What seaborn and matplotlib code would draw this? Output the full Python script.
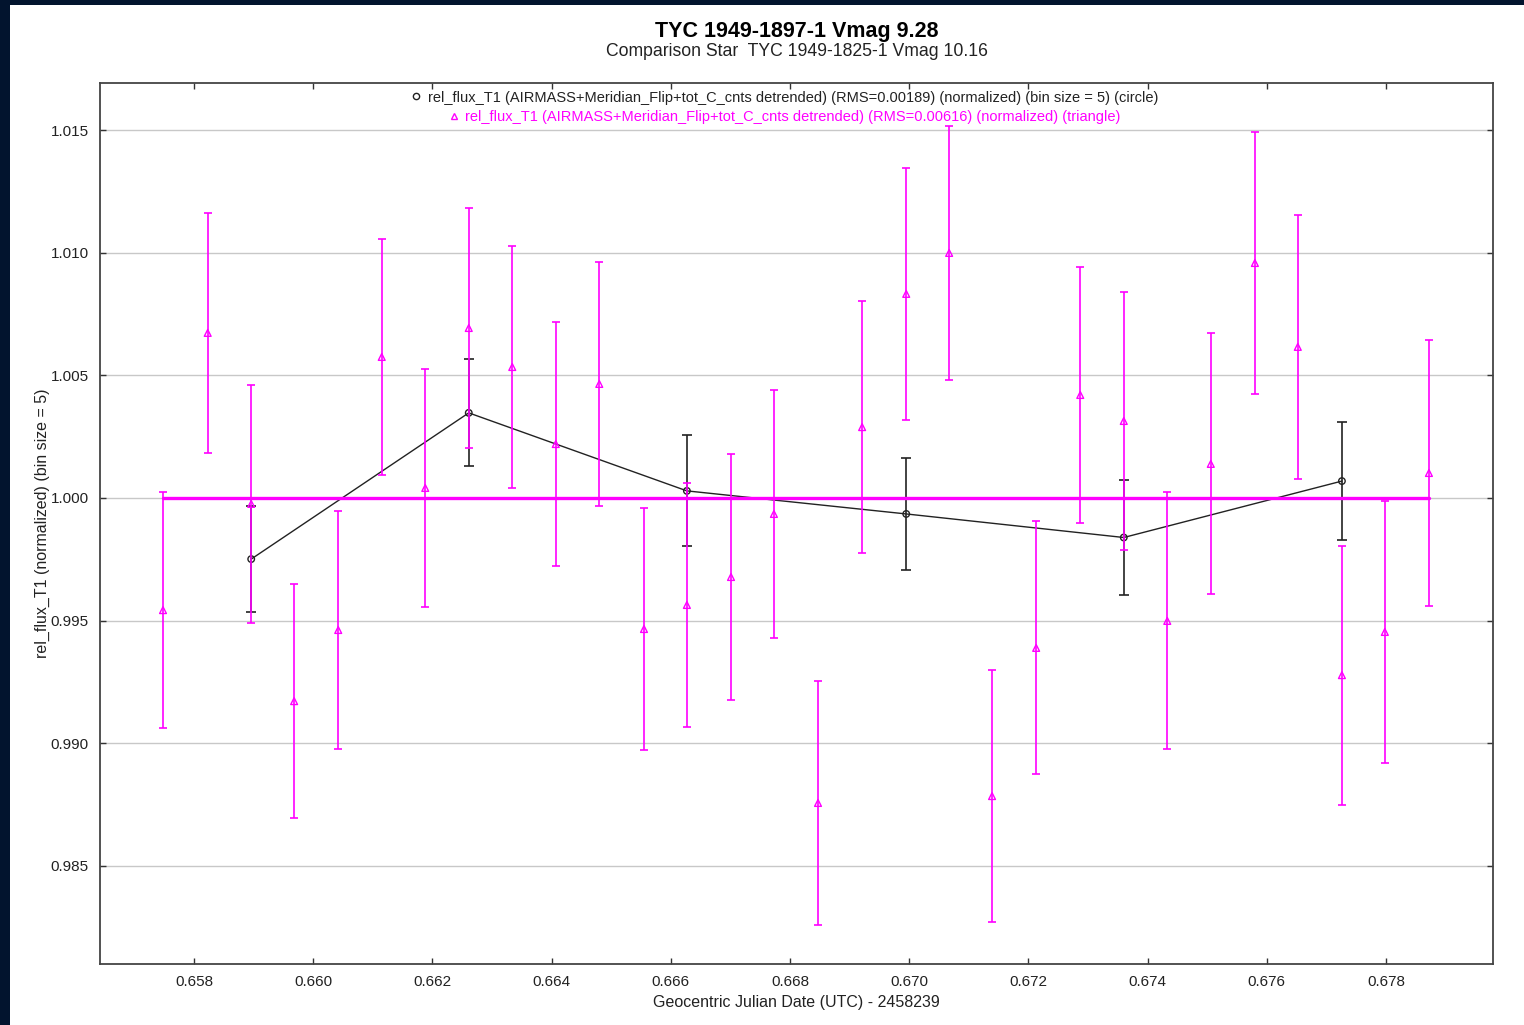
import matplotlib
matplotlib.use("Agg")
import matplotlib.pyplot as plt
from matplotlib.patches import Rectangle
from matplotlib.lines import Line2D
from matplotlib.legend import Legend
import seaborn as sns
import pandas as pd

sns.set_theme(style="white")
plt.rcParams["font.family"] = ["Liberation Sans", "DejaVu Sans"]

# unbinned detrended flux (triangles)
raw_jd = [0.65748, 0.65823, 0.65896, 0.65968, 0.66042, 0.66115, 0.66188, 0.66261,
          0.66334, 0.66407, 0.66480, 0.66555, 0.66627, 0.66701, 0.66773, 0.66847,
          0.66921, 0.66995, 0.67067, 0.67139, 0.67213, 0.67287, 0.67360, 0.67433,
          0.67506, 0.67580, 0.67652, 0.67726, 0.67798, 0.67872]
raw_flux = [0.99543, 1.00673, 0.99976, 0.99172, 0.99462, 1.00575, 1.00041, 1.00693,
            1.00534, 1.00220, 1.00465, 0.99466, 0.99564, 0.99678, 0.99935, 0.98757,
            1.00289, 1.00832, 1.00999, 0.98785, 0.99389, 1.00420, 1.00314, 0.99499,
            1.00139, 1.00958, 1.00616, 0.99278, 0.99454, 1.00102]
raw_err = [0.00480, 0.00488, 0.00486, 0.00478, 0.00484, 0.00482, 0.00486, 0.00488,
           0.00492, 0.00496, 0.00496, 0.00492, 0.00498, 0.00500, 0.00506, 0.00498,
           0.00512, 0.00514, 0.00516, 0.00514, 0.00516, 0.00522, 0.00524, 0.00524,
           0.00532, 0.00534, 0.00538, 0.00528, 0.00534, 0.00542]

# binned (bin size = 5) flux (circles)
bin_jd = [0.65896, 0.66261, 0.66627, 0.66995, 0.67360, 0.67726]
bin_flux = [0.99751, 1.00347, 1.00029, 0.99935, 0.99839, 1.00069]
bin_err = [0.00216, 0.00218, 0.00226, 0.00230, 0.00234, 0.00239]

x_ticks = [0.658, 0.660, 0.662, 0.664, 0.666, 0.668, 0.670, 0.672, 0.674, 0.676, 0.678]
y_ticks = [0.985, 0.990, 0.995, 1.000, 1.005, 1.010, 1.015]

raw = pd.DataFrame({"jd": raw_jd, "flux": raw_flux, "err": raw_err})
binned = pd.DataFrame({"jd": bin_jd, "flux": bin_flux, "err": bin_err})

MAG = "#ff00ff"
W, H = 1524, 1025
fig = plt.figure(figsize=(W / 100, H / 100), dpi=100, facecolor="#02142e")
fig.patches.append(Rectangle((10 / W, 0), 1 - 10 / W, 1 - 5 / H,
                             transform=fig.transFigure, facecolor="white",
                             edgecolor="none", zorder=-10))
ax = fig.add_axes([100 / W, 61 / H, 1393 / W, 881 / H])

# binned series (black) underneath
ax.errorbar(binned["jd"], binned["flux"], yerr=binned["err"], fmt="none",
            ecolor="#222222", elinewidth=1.2, capsize=3.5, capthick=1.2, zorder=2)
sns.lineplot(data=binned, x="jd", y="flux", ax=ax, color="#222222",
             linewidth=1.0, zorder=2, estimator=None, sort=False)
sns.scatterplot(data=binned, x="jd", y="flux", ax=ax, marker="o", s=22,
                facecolor="none", edgecolor="#222222", linewidth=1.0, zorder=3)

# unbinned series (magenta) on top
ax.errorbar(raw["jd"], raw["flux"], yerr=raw["err"], fmt="none",
            ecolor=MAG, elinewidth=1.2, capsize=3, capthick=1.2, zorder=4)
sns.scatterplot(data=raw, x="jd", y="flux", ax=ax, marker="^", s=24,
                facecolor="none", edgecolor=MAG, linewidth=1.0, zorder=5)
ax.plot([raw_jd[0], raw_jd[-1]], [1.0, 1.0], color=MAG, linewidth=2.4, zorder=4)

ax.set_xlim(0.656423, 0.679795)
ax.set_ylim(0.981005, 1.016916)
ax.set_xticks(x_ticks)
ax.set_xticklabels([f"{t:.3f}" for t in x_ticks])
ax.set_yticks(y_ticks)
ax.set_yticklabels([f"{t:.3f}" for t in y_ticks])
ax.yaxis.grid(True, color="#c8c8c8", linewidth=1.0)
ax.xaxis.grid(False)
ax.set_axisbelow(True)
ax.tick_params(axis="both", direction="in", length=4, width=1, color="#333333",
               labelsize=11, labelcolor="#222222", top=True, right=True,
               bottom=True, left=True, pad=8)
for sp in ax.spines.values():
    sp.set_color("#444444")
    sp.set_linewidth(1.3)

ax.set_xlabel("Geocentric Julian Date (UTC) - 2458239", fontsize=11.5, color="#222222",
              labelpad=4)
ax.set_ylabel("rel_flux_T1 (normalized) (bin size = 5)", fontsize=11.5, color="#222222")
ax.yaxis.set_label_coords((50 - 100) / 1393, 0.5)

# each legend row is centred on its own, so use two one-row legends
rows = [
    (Line2D([], [], marker="o", linestyle="none", markerfacecolor="none",
            markeredgecolor="#222222", markersize=4.5),
     "rel_flux_T1 (AIRMASS+Meridian_Flip+tot_C_cnts detrended) (RMS=0.00189) (normalized) (bin size = 5) (circle)",
     "#222222", 0.998),
    (Line2D([], [], marker="^", linestyle="none", markerfacecolor="none",
            markeredgecolor=MAG, markersize=4.5),
     "rel_flux_T1 (AIRMASS+Meridian_Flip+tot_C_cnts detrended) (RMS=0.00616) (normalized) (triangle)",
     MAG, 0.9755),
]
for handle, label, col, yanchor in rows:
    leg = Legend(ax, [handle], [label], loc="upper center",
                 bbox_to_anchor=(0.4917, yanchor), frameon=False, fontsize=10.5,
                 handlelength=0.6, handletextpad=0.5, borderaxespad=0.0,
                 labelcolor=col)
    ax.add_artist(leg)

fig.text(796.5 / W, 1 - 31 / H, "TYC 1949-1897-1 Vmag 9.28", ha="center", va="center",
         fontsize=15.5, fontweight="bold", color="black")
fig.text(796.5 / W, 1 - 51 / H, "Comparison Star  TYC 1949-1825-1 Vmag 10.16",
         ha="center", va="center", fontsize=12.7, color="#222222")

fig.savefig("out.png", dpi=100, facecolor=fig.get_facecolor())
